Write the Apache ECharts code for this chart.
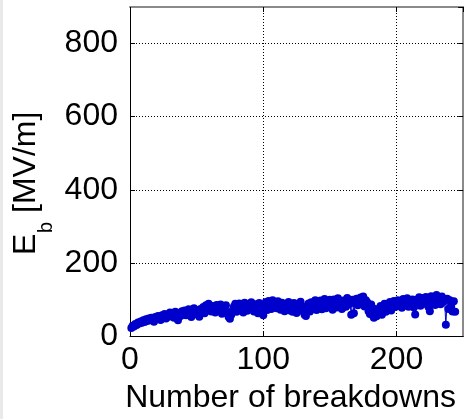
<!DOCTYPE html>
<html>
<head>
<meta charset="utf-8">
<script src="https://cdn.jsdelivr.net/npm/echarts@6/dist/echarts.min.js"></script>
<style>
  html, body { margin: 0; padding: 0; background: #fff; }
  #chart { width: 471px; height: 419px; }
</style>
</head>
<body>
<div id="chart"></div>
<script>
// Breakdown field E_b [MV/m] for each successive breakdown (1, 2, 3, ...)
const fieldValues = [
  22, 28, 26, 33, 30, 37, 34, 40, 36, 43,
  38, 46, 41, 48, 43, 50, 45, 39, 52, 47,
  55, 49, 44, 57, 51, 60, 48, 58, 53, 64,
  56, 62, 50, 66, 59, 43, 63, 55, 68, 60,
  70, 57, 65, 73, 61, 52, 69, 76, 63, 71,
  58, 53, 74, 66, 79, 62, 84, 70, 88, 75,
  67, 82, 72, 64, 85, 77, 69, 86, 61, 79,
  73, 84, 65, 52, 47, 58, 70, 81, 88, 66,
  76, 89, 71, 83, 64, 91, 78, 69, 86, 74,
  92, 80, 67, 87, 75, 62, 90, 82, 64, 57,
  79, 93, 71, 96, 84, 74, 98, 81, 90, 76,
  95, 85, 72, 91, 79, 68, 88, 77, 93, 70,
  83, 66, 90, 75, 63, 86, 72, 94, 69, 81,
  58, 55, 78, 89, 67, 92, 74, 84, 98, 71,
  87, 79, 97, 73, 90, 101, 76, 93, 82, 99,
  85, 72, 100, 88, 78, 103, 83, 95, 74, 97,
  91, 80, 104, 86, 94, 58, 99, 62, 89, 102,
  84, 96, 105, 90, 108, 81, 98, 92, 68, 60,
  86, 57, 50, 74, 54, 69, 63, 82, 58, 72,
  88, 66, 84, 75, 93, 70, 87, 96, 79, 91,
  98, 82, 94, 77, 101, 89, 84, 103, 80, 97,
  92, 100, 78, 59, 99, 86, 106, 83, 95, 104,
  88, 107, 94, 79, 68, 109, 90, 101, 85, 112,
  96, 105, 87, 108, 93, 100, 31, 102, 74, 98,
  82, 67, 95, 66
];

// Axis settings
const xTicks = [0, 100, 200];
const yTicks = [0, 200, 400, 600, 800];
const xMax = 250;
const yMax = 900;

const FONT = '"Liberation Sans", Arial, sans-serif';
const markerBlue = '#0000cc';

// pairs of [breakdown number, field]
const points = fieldValues.map((v, i) => [i + 1, v]);

const chart = echarts.init(document.getElementById('chart'), null, { renderer: 'canvas' });

const labelStyle = { fontSize: 32, fontFamily: FONT, color: '#000', lineHeight: 32 };
const dotted = { show: true, lineStyle: { type: [1, 2], color: '#000', width: 1 } };

chart.setOption({
  backgroundColor: '#fff',
  animation: false,
  grid: { left: 130, top: 7, right: 5, bottom: 76, containLabel: false },
  xAxis: [
    {
      type: 'value', position: 'bottom', min: 0, max: xMax, interval: xTicks[1] - xTicks[0],
      axisLine: { show: true, onZero: false, lineStyle: { color: '#000', width: 1 } },
      axisTick: { show: true, inside: true, length: 5, lineStyle: { color: '#000' } },
      axisLabel: Object.assign({ margin: 8, showMaxLabel: false }, labelStyle),
      splitLine: dotted,
      name: 'Number of breakdowns', nameLocation: 'middle', nameGap: 46,
      nameTextStyle: Object.assign({ padding: [0, 12, 0, 0] }, labelStyle)
    },
    {
      type: 'value', position: 'top', min: 0, max: xMax, interval: xTicks[1] - xTicks[0],
      axisLine: { show: true, onZero: false, lineStyle: { color: '#8a8a8a', width: 2 } },
      axisTick: { show: true, inside: true, length: 5, lineStyle: { color: '#000' } },
      axisLabel: { show: false },
      splitLine: { show: false }
    }
  ],
  yAxis: [
    {
      type: 'value', position: 'left', min: 0, max: yMax, interval: yTicks[1] - yTicks[0],
      axisLine: { show: true, onZero: false, lineStyle: { color: '#000', width: 1 } },
      axisTick: { show: true, inside: true, length: 5, lineStyle: { color: '#000' } },
      axisLabel: Object.assign({ margin: 12, showMaxLabel: false }, labelStyle),
      splitLine: dotted
    },
    {
      type: 'value', position: 'right', min: 0, max: yMax, interval: yTicks[1] - yTicks[0],
      axisLine: { show: true, onZero: false, lineStyle: { color: '#8a8a8a', width: 2 } },
      axisTick: { show: true, inside: true, length: 5, lineStyle: { color: '#000' } },
      axisLabel: { show: false },
      splitLine: { show: false }
    }
  ],
  series: [
    {
      type: 'line',
      xAxisIndex: 0, yAxisIndex: 0,
      data: points,
      symbol: 'circle',
      symbolSize: 8,
      showAllSymbol: true,
      lineStyle: { color: markerBlue, width: 1 },
      itemStyle: { color: markerBlue, borderWidth: 0 }
    }
  ],
  graphic: [
    // thin grey frame strip on the left edge
    { type: 'rect', left: 0, top: 0, shape: { width: 3, height: 419 }, style: { fill: '#e9e9e9' }, silent: true },
    // y-axis title E_b [MV/m], read bottom-to-top
    {
      type: 'group', x: 37, y: 255, rotation: Math.PI / 2,
      children: [
        { type: 'text', x: 0, y: -11, style: { text: 'E', font: '32px ' + FONT, fill: '#000', align: 'left', verticalAlign: 'middle' } },
        { type: 'text', x: 22, y: 9, style: { text: 'b', font: '20px ' + FONT, fill: '#000', align: 'left', verticalAlign: 'middle' } },
        { type: 'text', x: 42, y: -11, style: { text: '[MV/m]', font: '32px ' + FONT, fill: '#000', align: 'left', verticalAlign: 'middle' } }
      ]
    }
  ]
});
</script>
</body>
</html>
